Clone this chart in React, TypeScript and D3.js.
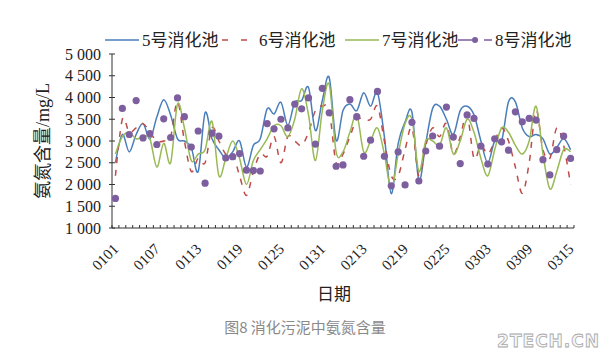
import React from 'react'
import * as d3 from 'd3'

// 日期（类别轴）
const DATES = [
  '0101','0102','0103','0104','0105','0106','0107','0108','0109','0110',
  '0111','0112','0113','0114','0115','0116','0117','0118','0119','0120',
  '0121','0122','0123','0124','0125','0126','0127','0128','0129','0130','0131',
  '0201','0202','0203','0204','0205',
  '0213','0214','0215','0216','0217','0218','0219','0220','0221','0222',
  '0223','0224','0225','0226','0227','0228',
  '0301','0302','0303','0304','0305','0306','0307','0308','0309','0310',
  '0311','0312','0313','0314','0315'
]
const TICK_DATES = ['0101','0107','0113','0119','0125','0131','0213','0219','0225','0303','0309','0315']
const Y_TICKS = [1000, 1500, 2000, 2500, 3000, 3500, 4000, 4500, 5000]

const S5 = [
  2500, 3150, 2750, 3150, 3400, 3050, 3550, 3950, 3600, 3050, 3000, 2850, 2300, 3650, 3050, 2800, 2600, 2750, 3000, 2400, 2900, 3050,
  3740, 3620, 3890, 3360, 3890, 3930, 4230, 3240, 3930, 4460, 3015, 3700, 3850, 3700, 4110, 3800, 4110, 3100, 1790, 2940, 3435, 3660, 2100, 2950, 3750, 3800,
  3500, 3150, 3700, 3800, 3600, 3000, 2500, 3000, 3000, 3900, 3900, 3300, 3100, 3150, 3050, 2700, 2850, 3050, 2800
]
const S6 = [
  2200, 3500, 3200, 3300, 3400, 3200, 3000, 3000, 3100, 3900, 3000, 2300, 2600, 2500, 3300, 3000, 2700, 2700, 2200, 1750, 2300, 2700,
  2650, 3100, 2500, 3100, 3000, 2900, 3200, 3700, 3800, 3700, 2500, 2700, 3100, 3500, 3500, 3500, 3800, 3000, 2200, 2200, 2800, 3300, 2200, 2900, 3300, 3100,
  3400, 2700, 3100, 3600, 2600, 2900, 2700, 3000, 3300, 3000, 2400, 1800, 2500, 3700, 2800, 2600, 3300, 2900, 2000
]
const S7 = [
  2700, 3100, 3200, 3050, 3100, 3050, 2400, 2950, 2500, 3850, 3300, 2550, 2700, 2800, 3450, 2200, 2600, 3000, 2600, 2000, 2550, 2800,
  3050, 3350, 3350, 3100, 3500, 4200, 3600, 2550, 3700, 4300, 2750, 2750, 3200, 3600, 2750, 3000, 3300, 2700, 1900, 2700, 3400, 3500, 2300, 3000, 3000, 2900,
  3300, 2700, 3000, 3500, 3200, 2600, 2200, 2800, 3300, 3200, 2900, 2700, 3000, 3800, 2700, 1900, 2300, 2800, 2750
]
const S8 = [
  1680, 3750, 3150, 3930, 3070, 3170, 2920, 3510, 3080, 3990, 3560, 2860, 3230, 2030, 3180, 3110, 2610, 2640, 2710, 2330, 2320, 2310,
  3400, 3280, 3500, 3300, 3850, 3740, 3990, 2930, 4210, 3650, 2420, 2450, 3950, 3560, 2650, 3020, 4140, 2650, 1970, 2750, 1990, 3430, 2080, 2770, 3115, 2880,
  3780, 3090, 2480, 3600, 3520, 2880, 2470, 3050, 2980, 2790, 3670, 3440, 3520, 3480, 2570, 2220, 2800, 3110, 2600
]

const C5 = '#4a7ebb'
const C6 = '#be4b48'
const C7 = '#98b954'
const C8 = '#7d5fa0'

const SERIF = "'Liberation Serif', 'Times New Roman', Times, 'Noto Sans CJK SC', serif"

const W = 609
const H = 359
const left = 112, right = 574, top = 54, bottom = 228

export default function App() {
  const x = d3.scalePoint<string>().domain(DATES).range([left, right]).padding(0.5)
  const y = d3.scaleLinear().domain([1000, 5000]).range([bottom, top])
  const step = x.step()

  const line = d3.line<number>()
    .x((_, i) => x(DATES[i]) as number)
    .y(d => y(d))
    .curve(d3.curveCardinal.tension(0))

  const fmt = (v: number) => d3.format(',')(v).replace(',', ' ')

  const legendY = 40
  const legend = [
    { x: 105, name: '5号消化池', color: C5, dash: undefined as string | undefined, marker: false },
    { x: 222, name: '6号消化池', color: C6, dash: '6,13', marker: false },
    { x: 345, name: '7号消化池', color: C7, dash: undefined, marker: false },
    { x: 458, name: '8号消化池', color: C8, dash: '14,12', marker: true },
  ]

  return (
    <svg width={W} height={H} style={{ position: 'absolute', left: 0, top: 0, background: '#fff' }}>
      {/* 图例 */}
      {legend.map(l => (
        <g key={l.name}>
          <line x1={l.x} x2={l.x + 34} y1={legendY} y2={legendY} stroke={l.color} strokeWidth={1.5} strokeDasharray={l.dash} />
          {l.marker && <circle cx={l.x + 17} cy={legendY} r={3} fill={C8} />}
          <text x={l.x + 37} y={legendY} dy="0.35em" fontFamily={SERIF} fontSize={17} fill="#222">{l.name}</text>
        </g>
      ))}

      {/* Y 轴 */}
      <line x1={left} x2={left} y1={top} y2={bottom} stroke="#333" strokeWidth={1} />
      {Y_TICKS.map(t => (
        <g key={t}>
          <line x1={left - 3} x2={left + 3} y1={y(t)} y2={y(t)} stroke="#333" />
          <text x={left - 11} y={y(t)} dy="0.35em" textAnchor="end" fontFamily={SERIF} fontSize={16} fill="#222">{fmt(t)}</text>
        </g>
      ))}
      <text transform={`translate(43,${(top + bottom) / 2}) rotate(-90)`} textAnchor="middle" dy="0.35em"
        fontFamily={SERIF} fontSize={18} fill="#222">氨氮含量/mg/L</text>

      {/* X 轴 */}
      <line x1={left} x2={right} y1={bottom} y2={bottom} stroke="#333" strokeWidth={1} />
      {DATES.map(d => (
        <line key={d} x1={(x(d) as number) - step / 2} x2={(x(d) as number) - step / 2} y1={bottom} y2={bottom - 3} stroke="#333" />
      ))}
      <line x1={right} x2={right} y1={bottom} y2={bottom - 3} stroke="#333" />
      {TICK_DATES.map(d => (
        <text key={d} transform={`translate(${(x(d) as number) + 4},${bottom + 22}) rotate(-45)`} textAnchor="end"
          fontFamily={SERIF} fontSize={15} fill="#222">{d}</text>
      ))}
      <text x={334} y={300} textAnchor="middle" fontFamily={SERIF} fontSize={17} fill="#222">日期</text>

      {/* 数据 */}
      <path d={line(S5) ?? ''} fill="none" stroke={C5} strokeWidth={1.5} />
      <path d={line(S6) ?? ''} fill="none" stroke={C6} strokeWidth={1.5} strokeDasharray="6,7" />
      <path d={line(S7) ?? ''} fill="none" stroke={C7} strokeWidth={1.5} />
      {S8.map((v, i) => (
        <circle key={i} cx={x(DATES[i]) as number} cy={y(v)} r={3.6} fill={C8} />
      ))}

      {/* 图题 */}
      <text x={305} y={333} textAnchor="middle" fontFamily="'Noto Sans CJK SC', sans-serif" fontSize={15} fill="#8a8a8a">图8 消化污泥中氨氮含量</text>
      <text x={600} y={347} textAnchor="end" fontFamily="'DejaVu Sans', sans-serif" fontWeight="bold" fontSize={17}
        fill="#f6f6f6" stroke="#a8a8a8" strokeWidth={0.8} letterSpacing={1}>2TECH.CN</text>
    </svg>
  )
}
